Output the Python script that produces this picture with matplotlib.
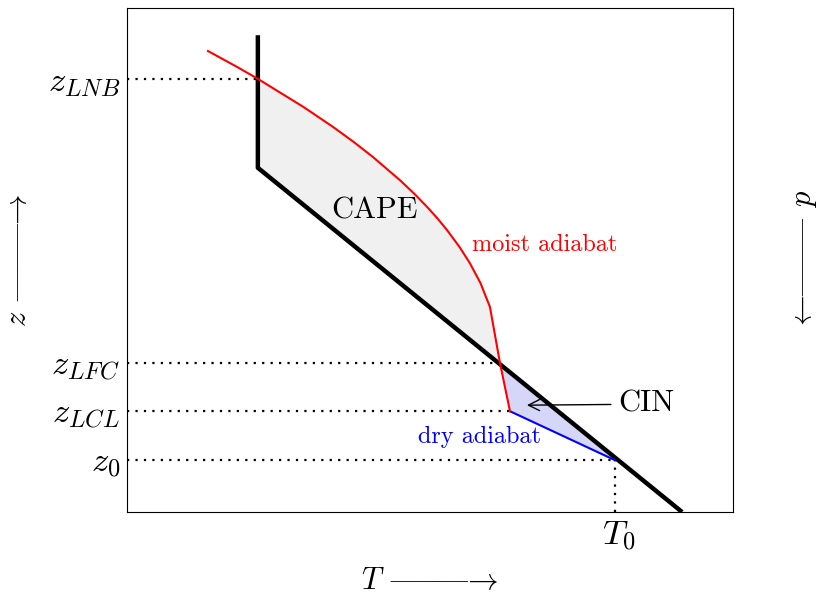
import numpy as np
import matplotlib
matplotlib.use("Agg")
import matplotlib.pyplot as plt

plt.rcParams['font.family'] = 'serif'
plt.rcParams['font.serif'] = ['cmr10']
plt.rcParams['mathtext.fontset'] = 'cm'
plt.rcParams['axes.formatter.use_mathtext'] = True

# ── sounding (arbitrary units) ─────────────────────
env_z = [0.0, 6.83, 9.46]
env_T = [9.16, 2.16, 2.16]

# parcel: surface -> LCL is dry, above LCL moist
parcel_z = [1.03, 2.0, 2.956, 4.067, 4.544, 4.940, 5.258, 5.595, 5.817, 6.052,
            6.310, 6.587, 7.044, 7.341, 7.639, 8.036, 8.593, 8.829, 9.147]
parcel_T = [8.05, 6.32, 6.155, 5.990, 5.833, 5.657, 5.488, 5.281, 5.130, 4.954,
            4.746, 4.502, 4.059, 3.743, 3.403, 2.914, 2.162, 1.820, 1.337]

z0, z_lcl, z_lfc, z_lnb = 1.03, 2.0, 2.956, 8.593
T0 = 8.05
level_names = [r'$z_0$', r'$z_{LCL}$', r'$z_{LFC}$', r'$z_{LNB}$']

def parcel_at(z):
    return np.interp(z, parcel_z, parcel_T)

def env_at(z):
    return np.interp(z, env_z, env_T)

fig = plt.figure(figsize=(8.19, 5.94), dpi=100)
ax = fig.add_axes([0.155, 0.138, 0.740, 0.8485])
ax.set_xlim(0, 10)
ax.set_ylim(0, 10)

# ── shaded areas ───────────────────────────────────
def zgrid(lo, hi):
    pts = np.concatenate([np.linspace(lo, hi, 400), parcel_z, env_z])
    return np.unique(pts[(pts >= lo) & (pts <= hi)])

zc = zgrid(z0, z_lfc)
ax.fill_betweenx(zc, parcel_at(zc), env_at(zc), color='#d6d6f8', lw=0)
za = zgrid(z_lfc, z_lnb)
ax.fill_betweenx(za, parcel_at(za), env_at(za), color='#f0f0f0', lw=0)

# ── level guides ───────────────────────────────────
dots = dict(color='k', lw=1.6, ls=(0, (1, 2.8)))
for z in [z0, z_lcl, z_lfc, z_lnb]:
    ax.plot([0, parcel_at(z)], [z, z], **dots)
ax.plot([T0, T0], [0, z0], **dots)

# ── curves ─────────────────────────────────────────
ax.plot(env_T, env_z, color='k', lw=3.2, solid_capstyle='butt')
ax.plot(parcel_T[:2], parcel_z[:2], color='blue', lw=1.5)
ax.plot(parcel_T[1:], parcel_z[1:], color='red', lw=1.5)

ax.text(3.37, 5.97, 'CAPE', fontsize=22, va='center', ha='left')
ax.text(5.69, 5.30, 'moist adiabat', fontsize=17.5, color='red', va='center', ha='left')
ax.text(5.82, 1.49, 'dry adiabat', fontsize=17.5, color='blue', va='center', ha='center')
ax.annotate('CIN', xy=(6.60, 2.12), xytext=(8.10, 2.14), fontsize=22,
            va='center', ha='left',
            arrowprops=dict(arrowstyle='->', color='k', lw=1.0,
                            shrinkA=3, shrinkB=0, mutation_scale=20))

# ── axes ───────────────────────────────────────────
ax.set_yticks([z0, z_lcl, z_lfc, z_lnb])
ax.set_yticklabels(level_names)
ax.set_xticks([T0])
ax.set_xticklabels([r'$\;T_0$'])
ax.tick_params(length=0, labelsize=25, pad=5)
for s in ax.spines.values():
    s.set_linewidth(0.8)

# long arrows built from cmsy pieces so the shaft weight stays even
arrow = r'{-}\!\!{-}\!\!{-}\!\!{-}\!\!{-}\!\!\rightarrow'
ax.set_xlabel(r'$T\ ' + arrow + '$', fontsize=22)
ax.xaxis.set_label_coords(0.5, -0.138)
ax.xaxis.label.set_va('center')
ax.set_ylabel(r'$z\ ' + arrow + '$', fontsize=22)
ax.yaxis.set_label_coords(-0.18, 0.5)
ax.yaxis.label.set_va('center')
ax.text(1.119, 0.5, r'$\leftarrow\!\!{-}\!\!{-}\!\!{-}\!\!{-}\!\!{-}\ p$', fontsize=22,
        rotation=90, ha='center', va='center', transform=ax.transAxes)

fig.savefig('out.png', dpi=100)
